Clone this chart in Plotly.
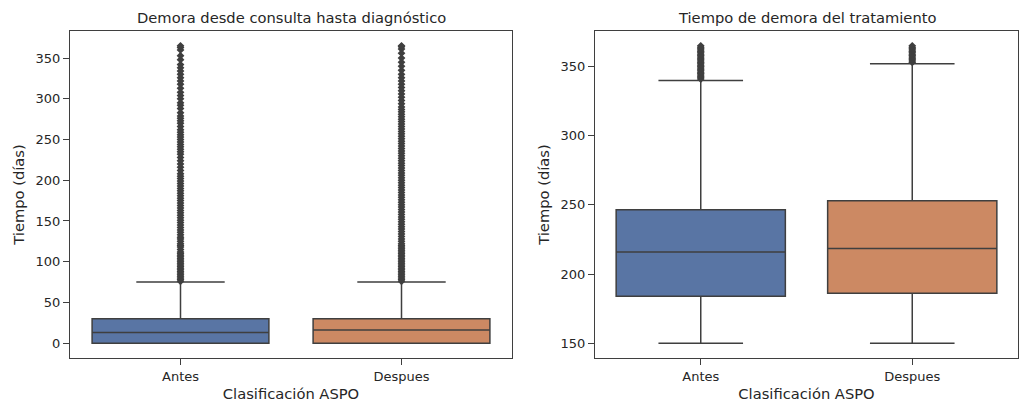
import plotly.graph_objects as go

categories = ["Antes", "Despues"]

# Panel 1: Demora desde consulta hasta diagnóstico (precomputed box stats)
diag_q1 = [0, 0]
diag_median = [13, 16]
diag_q3 = [30, 30]
diag_low = [0, 0]
diag_high = [75, 75]
diag_out_antes = [76, 78, 80, 82, 84, 86, 88, 90, 92, 94, 96, 98, 100, 102, 104, 106, 108, 110,
                  112, 115, 118, 120, 122, 125, 128, 130, 133, 136, 139, 142, 145, 148, 151, 154,
                  157, 160, 163, 166, 169, 172, 175, 178, 181, 184, 187, 190, 193, 196, 199, 202,
                  205, 208, 212, 216, 220, 224, 228, 232, 235, 238, 241, 244, 247, 250, 253, 256,
                  259, 262, 266, 270, 273, 276, 279, 283, 288, 292, 295, 300, 304, 308, 313, 318,
                  322, 326, 330, 334, 338, 342, 348, 353, 360, 363, 365]
diag_out_despues = [76, 78, 80, 82, 84, 86, 88, 90, 92, 94, 96, 98, 100, 102, 104, 106, 108, 110,
                    112, 114, 116, 118, 120, 122, 125, 128, 131, 134, 137, 140, 143, 146, 149, 152,
                    155, 158, 161, 164, 167, 170, 173, 176, 179, 182, 185, 188, 191, 194, 197, 200,
                    203, 206, 209, 212, 215, 218, 221, 224, 227, 230, 233, 236, 239, 242, 245, 248,
                    251, 254, 257, 260, 263, 266, 269, 272, 275, 278, 281, 284, 287, 290, 294, 298,
                    302, 306, 310, 314, 318, 322, 326, 330, 335, 340, 345, 350, 356, 361, 364, 365]

# Panel 2: Tiempo de demora del tratamiento
trat_q1 = [184, 186]
trat_median = [216, 218.5]
trat_q3 = [246.5, 253]
trat_low = [150, 150]
trat_high = [340, 352]
trat_out_antes = [341, 342, 343, 344, 345, 346, 347, 348, 349, 350, 351, 352, 353, 354, 355, 356,
                  357, 358, 359, 360, 361, 362, 363, 364, 365]
trat_out_despues = [353, 354, 355, 356, 357, 358, 359, 360, 361, 362, 363, 364, 365]

colors = ["#5975a4", "#cc8963"]
dark = "#3f3f3f"
text_color = "#262626"
font_family = "DejaVu Sans"

fig = go.Figure()

def add_panel(q1, med, q3, lo, hi, outs, xaxis, yaxis):
    for i, cat in enumerate(categories):
        fig.add_trace(go.Box(
            x=[cat], q1=[q1[i]], median=[med[i]], q3=[q3[i]],
            lowerfence=[lo[i]], upperfence=[hi[i]],
            boxpoints=False, width=0.8, whiskerwidth=0.5,
            fillcolor=colors[i], line=dict(color=dark, width=1.5),
            xaxis=xaxis, yaxis=yaxis, showlegend=False, hoverinfo="skip",
        ))
        fig.add_trace(go.Scatter(
            x=[cat] * len(outs[i]), y=outs[i], mode="markers",
            marker=dict(symbol="diamond", size=6, color=dark, line=dict(width=0)),
            xaxis=xaxis, yaxis=yaxis, showlegend=False, hoverinfo="skip",
        ))

add_panel(diag_q1, diag_median, diag_q3, diag_low, diag_high,
          [diag_out_antes, diag_out_despues], "x", "y")
add_panel(trat_q1, trat_median, trat_q3, trat_low, trat_high,
          [trat_out_antes, trat_out_despues], "x2", "y2")

W, H = 1019, 403
y0, y1 = (H - 358) / H, (H - 31) / H

axis_common = dict(
    showline=True, mirror=True, linecolor=dark, linewidth=1.25,
    ticks="outside", ticklen=6, tickwidth=1.25, tickcolor=dark,
    showgrid=False, zeroline=False,
    tickfont=dict(family=font_family, size=13, color=text_color),
    title_font=dict(family=font_family, size=14.7, color=text_color),
)

fig.update_layout(
    width=W, height=H,
    margin=dict(l=0, r=0, t=0, b=0),
    paper_bgcolor="white", plot_bgcolor="white",
    font=dict(family=font_family, color=text_color),
    xaxis=dict(domain=[70 / W, 512 / W], anchor="y", type="category",
               categoryorder="array", categoryarray=categories, range=[-0.5, 1.5],
               title=dict(text="Clasificación ASPO", standoff=5), **axis_common),
    yaxis=dict(domain=[y0, y1], anchor="x", range=[-18.25, 383.25],
               tickvals=[0, 50, 100, 150, 200, 250, 300, 350],
               title=dict(text="Tiempo (días)", standoff=7), **axis_common),
    xaxis2=dict(domain=[595 / W, 1018 / W], anchor="y2", type="category",
                categoryorder="array", categoryarray=categories, range=[-0.5, 1.5],
                title=dict(text="Clasificación ASPO", standoff=5), **axis_common),
    yaxis2=dict(domain=[y0, y1], anchor="x2", range=[139.25, 375.75],
                tickvals=[150, 200, 250, 300, 350],
                title=dict(text="Tiempo (días)", standoff=7), **axis_common),
    annotations=[
        dict(text="Demora desde consulta hasta diagnóstico", x=(70 + 512) / 2 / W, y=y1,
             xref="paper", yref="paper", xanchor="center", yanchor="bottom", yshift=3,
             showarrow=False, font=dict(family=font_family, size=14.7, color=text_color)),
        dict(text="Tiempo de demora del tratamiento", x=(595 + 1018) / 2 / W, y=y1,
             xref="paper", yref="paper", xanchor="center", yanchor="bottom", yshift=3,
             showarrow=False, font=dict(family=font_family, size=14.7, color=text_color)),
    ],
)

fig.write_html("out.html")
